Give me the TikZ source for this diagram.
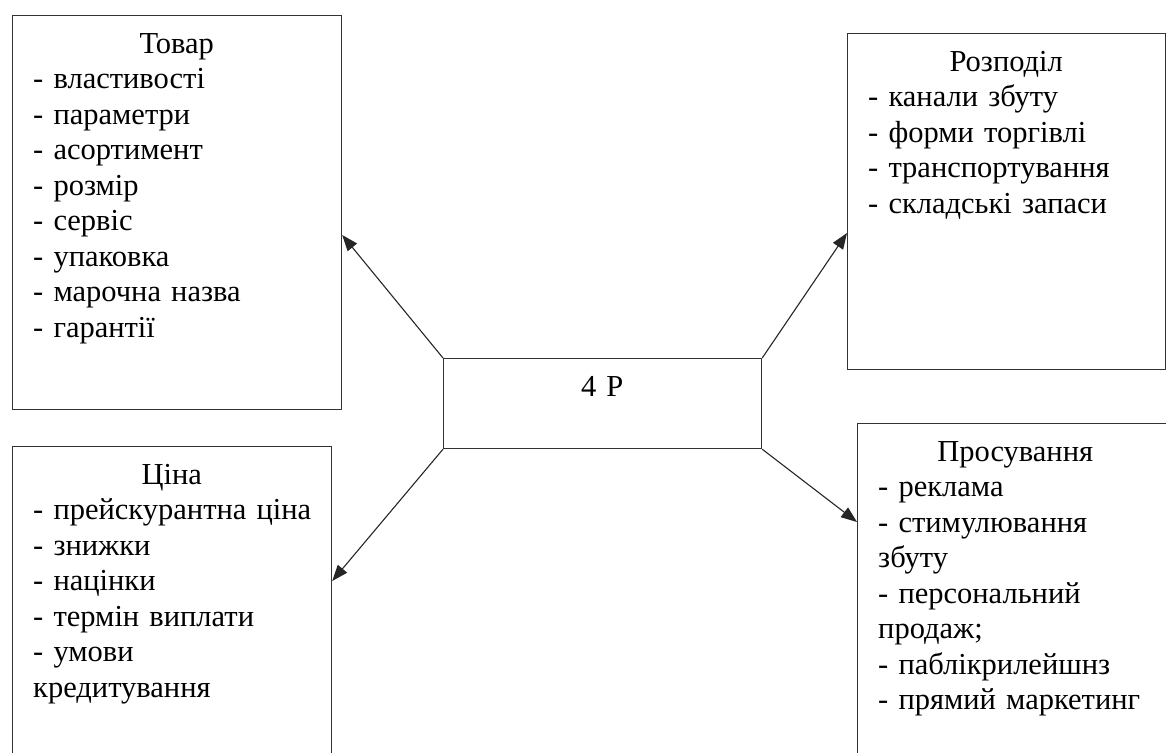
\documentclass[tikz,border=0pt]{standalone}
\usepackage{fontspec}
\setmainfont{Liberation Serif}
\usetikzlibrary{positioning,calc,arrows.meta}

\begin{document}
\begin{tikzpicture}[x=1pt,y=-1pt,
  box/.style={draw=black!80,line width=1.2pt,rectangle,inner sep=0pt,anchor=north west},
  boxtext/.style={inner sep=0pt,text width=#1,font=\fontsize{30.5}{35.5}\selectfont},
  link/.style={-{Triangle[length=16pt,width=12pt]},draw=black!85,line width=1.1pt}]
\useasboundingbox (0,0) rectangle (1166,752);
\clip (0,0) rectangle (1166,752);
% 4 P
\node[box,minimum width=318pt,minimum height=90pt] (p4) at (443,358) {};
\node[boxtext=276pt,below right=13pt and 21pt of p4.north west] (p4txt) {\strut\centering 4 P\par};
% Товар
\node[box,minimum width=329pt,minimum height=394pt] (tovar) at (12,15) {};
\node[boxtext=287pt,below right=13pt and 21pt of tovar.north west] (tovartxt)
  {\strut\centering Товар\par\raggedright
   -~властивості\\ -~параметри\\ -~асортимент\\ -~розмір\\ -~сервіс\\
   -~упаковка\\ -~марочна~назва\\ -~гарантії};
% Розподіл
\node[box,minimum width=318pt,minimum height=336pt] (rozpodil) at (847,33) {};
\node[boxtext=276pt,below right=13pt and 21pt of rozpodil.north west] (rozpodiltxt)
  {\strut\centering Розподіл\par\raggedright
   -~канали~збуту\\ -~форми~торгівлі\\ -~транспортування\\ -~складські~запаси};
% Ціна
\node[box,minimum width=319pt,minimum height=320pt] (cina) at (12,446) {};
\node[boxtext=277pt,below right=13pt and 21pt of cina.north west] (cinatxt)
  {\strut\centering Ціна\par\raggedright
   \mbox{-~прейскурантна~ціна}\\ -~знижки\\ -~націнки\\ -~термін~виплати\\
   -~умови\\ кредитування};
% Просування
\node[box,minimum width=316pt,minimum height=340pt] (prosuv) at (857,423) {};
\node[boxtext=274pt,below right=13pt and 21pt of prosuv.north west] (prosuvtxt)
  {\strut\centering Просування\par\raggedright
   -~реклама\\ -~стимулювання\\ збуту\\ -~персональний\\ продаж;\\
   -~паблікрилейшнз\\ -~прямий~маркетинг};

\draw[link] (p4.north west) -- ($(tovar.north east)+(0,220)$);
\draw[link] (p4.north east) -- ($(rozpodil.north west)+(0,200)$);
\draw[link] (p4.south west) -- ($(cina.north east)+(0,135)$);
\draw[link] (p4.south east) -- ($(prosuv.north west)+(0,99)$);
\end{tikzpicture}
\end{document}
